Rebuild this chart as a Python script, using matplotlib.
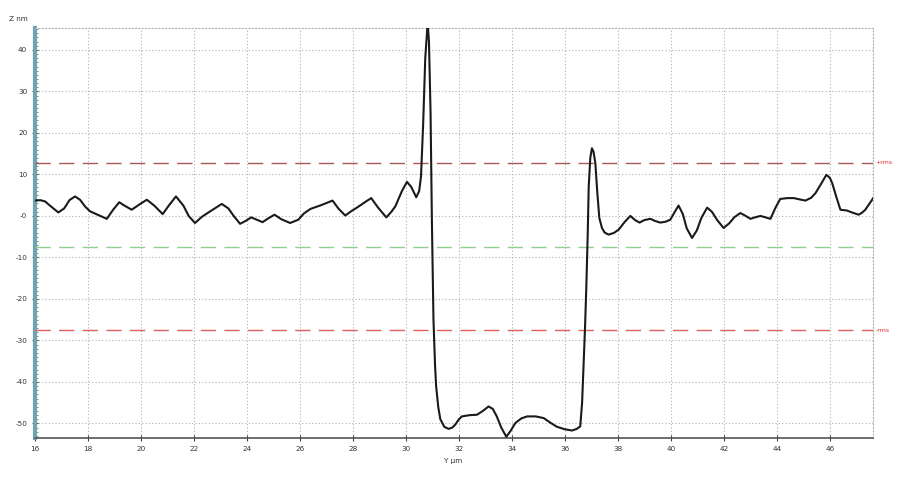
import matplotlib
matplotlib.use("Agg")
import matplotlib.pyplot as plt
from matplotlib.ticker import MultipleLocator, FixedLocator

# Profile data (Y in µm, Z in nm)
y_um = [16.0, 16.2, 16.38, 16.6, 16.88, 17.1, 17.3, 17.51, 17.7, 17.9,
        18.08, 18.4, 18.71, 18.95, 19.18, 19.4, 19.65, 19.95, 20.22, 20.5,
        20.82, 21.05, 21.32, 21.6, 21.8, 22.04, 22.3, 22.61, 23.05, 23.3,
        23.5, 23.74, 23.95, 24.16, 24.4, 24.59, 24.8, 25.04, 25.3, 25.63,
        25.94, 26.15, 26.4, 26.8, 27.23, 27.45, 27.71, 27.95, 28.15, 28.45,
        28.69, 28.95, 29.26, 29.45, 29.6, 29.85, 30.04, 30.2, 30.39, 30.5,
        30.57, 30.65, 30.73, 30.82, 30.87, 30.93, 30.98, 31.04, 31.1, 31.14,
        31.22, 31.3, 31.45, 31.61, 31.75, 31.86, 32.0, 32.11, 32.4, 32.68,
        32.9, 33.12, 33.28, 33.43, 33.6, 33.79, 33.95, 34.13, 34.35, 34.57,
        34.9, 35.2, 35.45, 35.7, 36.0, 36.27, 36.45, 36.58, 36.65, 36.7,
        36.76, 36.81, 36.86, 36.9, 36.96, 37.02, 37.08, 37.15, 37.22, 37.3,
        37.4, 37.5, 37.65, 37.85, 38.03, 38.25, 38.47, 38.65, 38.82, 39.0,
        39.23, 39.4, 39.6, 39.8, 39.98, 40.15, 40.29, 40.45, 40.6, 40.8,
        40.98, 41.15, 41.37, 41.55, 41.75, 41.99, 42.2, 42.4, 42.62, 42.8,
        43.0, 43.2, 43.38, 43.55, 43.76, 43.95, 44.13, 44.4, 44.64, 44.85,
        45.08, 45.3, 45.46, 45.65, 45.87, 46.0, 46.09, 46.25, 46.4, 46.65,
        46.85, 47.09, 47.22, 47.34, 47.5, 47.66]
z_nm = [3.7, 3.8, 3.5, 2.3, 0.85, 1.8, 3.8, 4.7, 3.9, 2.2,
        1.1, 0.2, -0.7, 1.5, 3.3, 2.4, 1.5, 2.8, 3.9, 2.5,
        0.45, 2.5, 4.7, 2.5, 0.0, -1.7, -0.2, 1.1, 2.9, 1.8,
        0.0, -1.9, -1.2, -0.35, -1.0, -1.5, -0.6, 0.3, -0.8, -1.7,
        -0.9, 0.6, 1.7, 2.6, 3.7, 1.8, 0.1, 1.2, 2.0, 3.3,
        4.3, 2.0, -0.35, 1.0, 2.3, 6.0, 8.2, 7.0, 4.5, 6.0,
        9.5, 22.0, 38.0, 46.5, 42.0, 25.0, -0.9, -25.0, -36.0, -41.0,
        -46.0, -49.0, -50.8, -51.3, -51.0, -50.3, -49.0, -48.3, -48.0, -47.9,
        -47.0, -45.9, -46.5, -48.3, -51.0, -53.2, -51.8, -49.9, -48.8, -48.3,
        -48.3, -48.7, -49.8, -50.8, -51.4, -51.7, -51.3, -50.7, -45.0, -37.0,
        -27.0, -17.0, -5.0, 7.1, 14.0, 16.3, 15.5, 12.7, 6.0, -0.5,
        -2.9, -4.0, -4.5, -4.1, -3.3, -1.5, 0.0, -1.0, -1.6, -1.0,
        -0.7, -1.2, -1.6, -1.4, -0.9, 1.0, 2.5, 0.5, -3.0, -5.3,
        -3.5, -0.5, 2.0, 1.0, -1.0, -2.9, -1.8, -0.3, 0.7, 0.1,
        -0.7, -0.3, 0.0, -0.3, -0.7, 2.0, 4.1, 4.3, 4.3, 4.0,
        3.7, 4.4, 5.5, 7.5, 9.9, 9.2, 7.9, 4.5, 1.5, 1.3,
        0.8, 0.3, 0.8, 1.5, 3.0, 4.5]

plus_rms = 12.8
mean_line = -7.4
minus_rms = -27.6

x_ticks = list(range(16, 47, 2))
y_ticks = [40, 30, 20, 10, 0, -10, -20, -30, -40, -50]
y_tick_labels = ["40", "30", "20", "10", "-0", "-10", "-20", "-30", "-40", "-50"]

W, H = 902, 478
fig = plt.figure(figsize=(W / 100, H / 100), dpi=100)
left, right, top, bottom = 35, 873, 27.5, 438
ax = fig.add_axes([left / W, (H - bottom) / H, (right - left) / W, (bottom - top) / H])

ax.set_xlim(16, 47.63)
ax.set_ylim(-53.5, 45.4)

ax.plot(y_um, z_nm, color="#1a1a1a", lw=1.5, zorder=5,
        solid_joinstyle="round", solid_capstyle="round")

dash = (0, (11, 6))
ax.axhline(plus_rms, color="#a85858", lw=1.0, ls=dash, zorder=3)
ax.axhline(mean_line, color="#8fcf8f", lw=1.0, ls=dash, zorder=3)
ax.axhline(minus_rms, color="#e06060", lw=1.0, ls=dash, zorder=3)

ax.text(1.003, plus_rms, "+rms", transform=ax.get_yaxis_transform(),
        color="#e03030", fontsize=4.5, va="center", ha="left")
ax.text(1.003, minus_rms, "-rms", transform=ax.get_yaxis_transform(),
        color="#e03030", fontsize=4.5, va="center", ha="left")

ax.xaxis.set_major_locator(FixedLocator(x_ticks))
ax.set_xticklabels([str(t) for t in x_ticks])
ax.yaxis.set_major_locator(FixedLocator(y_ticks))
ax.set_yticklabels(y_tick_labels)
ax.yaxis.set_minor_locator(MultipleLocator(1))

ax.grid(True, which="major", color="#b0b0b0", ls=(0, (1, 2)), lw=0.8)

for s in ["top", "right"]:
    ax.spines[s].set_color("#b0b0b0")
    ax.spines[s].set_linestyle((0, (1, 2)))
    ax.spines[s].set_linewidth(0.8)
ax.spines["left"].set_color("#6fa5b3")
ax.spines["left"].set_linewidth(3.0)
ax.spines["bottom"].set_color("#555555")
ax.spines["bottom"].set_linewidth(1.2)

ax.tick_params(axis="both", which="major", direction="inout", length=5, width=0.8,
               color="#444444", labelsize=5.2, labelcolor="#333333", pad=3)
ax.tick_params(axis="y", which="minor", direction="in", length=2, width=0.5, color="#3c6f7c")

fig.text(9 / W, 1 - 19 / H, "Z nm", fontsize=5.2, color="#333333", ha="left", va="center")
fig.text(453 / W, 1 - 461 / H, "Y µm", fontsize=5.2, color="#333333", ha="center", va="center")

fig.savefig("out.png", dpi=100)
